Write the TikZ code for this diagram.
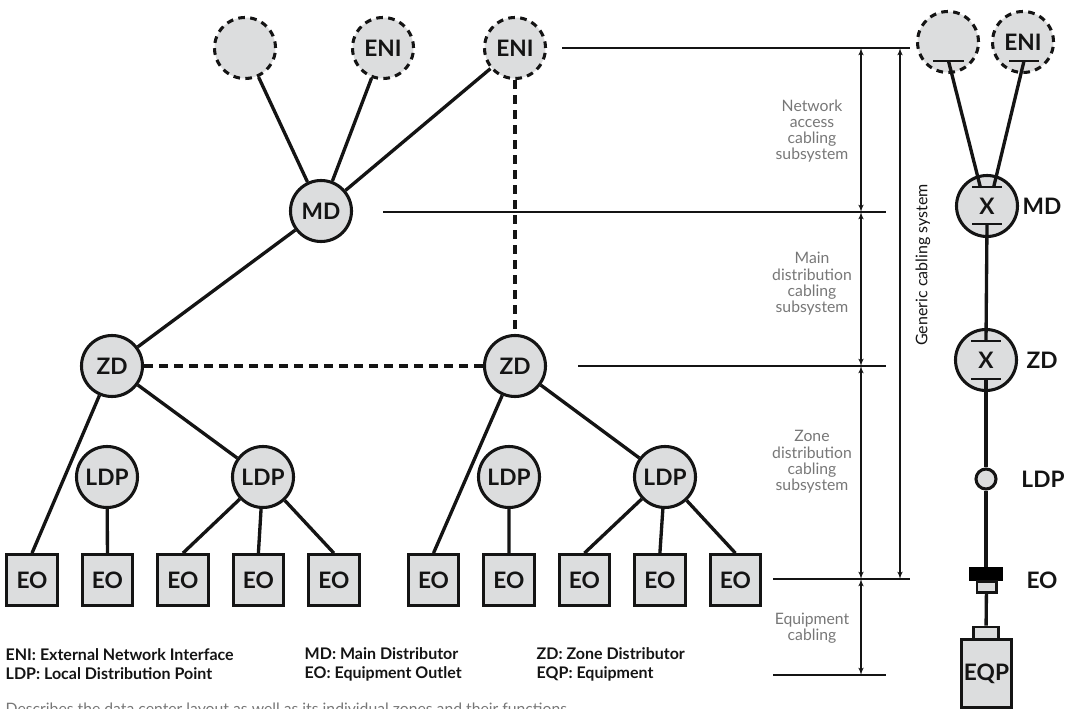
\documentclass[tikz,border=0pt]{standalone}
\usepackage{fontspec}
\setmainfont{Lato}
\usetikzlibrary{arrows}

\definecolor{boxgray}{HTML}{DCDDDE}
\definecolor{inkblack}{HTML}{141414}
\definecolor{notegray}{HTML}{777777}

\tikzset{
    disc/.style={circle, draw=inkblack, line width=2.3pt, fill=boxgray, minimum size=45.75pt, inner sep=0pt, text=inkblack, font=\fontsize{17}{19}\selectfont\bfseries},
    dashdisc/.style={disc, dash pattern=on 5pt off 4pt},
    outlet/.style={rectangle, draw=inkblack, line width=2.3pt, fill=boxgray, minimum size=38pt, inner sep=0pt, text=inkblack, font=\fontsize{17}{19}\selectfont\bfseries},
    bar/.style={rectangle, fill=inkblack, minimum width=23pt, minimum height=1.9pt, inner sep=0pt},
    cable/.style={draw=inkblack, line width=2.5pt},
    dashcable/.style={cable, line width=2.3pt, dash pattern=on 6.75pt off 4.5pt},
    rule/.style={draw=inkblack, line width=0.9pt},
    span/.style={rule, <->, >=latex'},
    note/.style={text=notegray, align=center, font=\fontsize{11.8}{12.2}\selectfont},
    tag/.style={text=inkblack, font=\fontsize{17}{19}\selectfont\bfseries},
    legend/.style={text=inkblack, anchor=west, align=left, font=\fontsize{12}{14.2}\selectfont\bfseries}
}

\begin{document}
\begin{tikzpicture}[x=0.75pt,y=-0.75pt,node distance=56.6pt]
    \useasboundingbox (0,0) rectangle (1075,709);

    % tree: top level
    \node[dashdisc] (ENIa) at (245,48)  {};
    \node[dashdisc] (ENIb) at (383,48)  {ENI};
    \node[dashdisc] (ENIc) at (515,48)  {ENI};
    \node[disc]     (MD)   at (321,211) {MD};
    \node[disc]     (ZDa)  at (112,366) {ZD};
    \node[disc]     (ZDb)  at (515,366) {ZD};

    % tree: lower level
    \node[disc] (LDPa) at (107,477) {LDP};
    \node[disc] (LDPb) at (263,477) {LDP};
    \node[disc] (LDPc) at (509,477) {LDP};
    \node[disc] (LDPd) at (665,477) {LDP};

    \node[outlet] (EOa) at (32,580)  {EO};
    \node[outlet] (EOb) [right of=EOa] {EO};
    \node[outlet] (EOc) [right of=EOb] {EO};
    \node[outlet] (EOd) [right of=EOc] {EO};
    \node[outlet] (EOe) [right of=EOd] {EO};
    \node[outlet] (EOf) at (433.5,580) {EO};
    \node[outlet] (EOg) [right of=EOf] {EO};
    \node[outlet] (EOh) [right of=EOg] {EO};
    \node[outlet] (EOi) [right of=EOh] {EO};
    \node[outlet] (EOj) [right of=EOi] {EO};

    % tree: cables
    \draw[cable] (ENIa) -- (MD);
    \draw[cable] (ENIb) -- (MD);
    \draw[cable] (ENIc) -- (MD);
    \draw[cable] (MD) -- (ZDa);
    \draw[dashcable] (ENIc) -- (ZDb);
    \draw[dashcable] (ZDa) -- (ZDb);

    \draw[cable] (ZDa) -- (EOa.north);
    \draw[cable] (ZDa) -- (LDPb);
    \draw[cable] (LDPa) -- (EOb.north);
    \draw[cable] (LDPb) -- (EOc.north);
    \draw[cable] (LDPb) -- (EOd.north);
    \draw[cable] (LDPb) -- (EOe.north);

    \draw[cable] (ZDb) -- (EOf.north);
    \draw[cable] (ZDb) -- (LDPd);
    \draw[cable] (LDPc) -- (EOg.north);
    \draw[cable] (LDPd) -- (EOh.north);
    \draw[cable] (LDPd) -- (EOi.north);
    \draw[cable] (LDPd) -- (EOj.north);

    % levels
    \coordinate (ruleAs) at (562,48);
    \coordinate (ruleAe) at (910,48);
    \coordinate (ruleBs) at (383,212);
    \coordinate (ruleBe) at (886,212);
    \coordinate (ruleCs) at (578,366);
    \coordinate (ruleCe) at (886,366);
    \coordinate (ruleDs) at (773,579);
    \coordinate (ruleDe) at (910,579);
    \coordinate (ruleEs) at (773,675);
    \coordinate (ruleEe) at (886,675);
    \coordinate (spanA) at (861,48);
    \coordinate (spanB) at (861,212);
    \coordinate (spanC) at (861,366);
    \coordinate (spanD) at (861,579);
    \coordinate (spanE) at (861,675);
    \coordinate (spanF) at (900,48);
    \coordinate (spanG) at (900,579);

    \draw[rule] (ruleAs) -- (ruleAe);
    \draw[rule] (ruleBs) -- (ruleBe);
    \draw[rule] (ruleCs) -- (ruleCe);
    \draw[rule] (ruleDs) -- (ruleDe);
    \draw[rule] (ruleEs) -- (ruleEe);

    \draw[span] (spanA) -- (spanB);
    \draw[span] (spanB) -- (spanC);
    \draw[span] (spanC) -- (spanD);
    \draw[span] (spanD) -- (spanE);
    \draw[span] (spanF) -- (spanG);

    \node[note] (noteA) at (812,131) {Network\\access\\cabling\\subsystem};
    \node[note] (noteB) at (812,284) {Main\\distribution\\cabling\\subsystem};
    \node[note] (noteC) at (812,462) {Zone\\distribution\\cabling\\subsystem};
    \node[note] (noteD) at (812,628) {Equipment\\cabling};
    \node[text=inkblack, rotate=90, font=\fontsize{12}{13}\selectfont] (noteE) at (923,265) {Generic cabling system};

    % right column
    \node[dashdisc] (sideA) at (948,42) {};
    \node[dashdisc] (sideB) at (1023,42) {ENI};
    \node[disc] (sideMD) at (987,206) {X};
    \node[disc] (sideZD) at (986,360) {X};
    \node[circle, draw=inkblack, line width=2.3pt, fill=boxgray, minimum size=15pt, inner sep=0pt] (sideLDP) at (986,479) {};
    \node[rectangle, fill=black, minimum width=25.5pt, minimum height=10.5pt, inner sep=0pt] (sideEO) at (986,574) {};
    \node[rectangle, draw=inkblack, line width=2pt, fill=boxgray, minimum width=14.5pt, minimum height=8.5pt, inner sep=0pt] (sidePlug) at (986.5,587) {};
    \node[rectangle, draw=inkblack, line width=2pt, fill=boxgray, minimum width=19pt, minimum height=9pt, inner sep=0pt] (sideTab) at (986,633) {};
    \node[rectangle, draw=inkblack, line width=2.3pt, fill=boxgray, minimum width=37.5pt, minimum height=51pt, inner sep=0pt, text=inkblack, font=\fontsize{17}{19}\selectfont\bfseries] (sideEQP) at (986.5,673.5) {EQP};

    \node[bar] (barA) at (948.5,61) {};
    \node[bar] (barB) at (1024,61) {};
    \node[bar] (barC) at (987,187) {};
    \node[bar] (barD) at (987,224) {};
    \node[bar] (barE) at (986,341) {};
    \node[bar] (barF) at (986,379) {};

    \draw[cable] (barA.center) -- ([xshift=-5pt]barC.center);
    \draw[cable] (barB.center) -- ([xshift=5pt]barC.center);
    \draw[cable] (barD.center) -- (barE.center);
    \draw[cable] (barF.center) -- (sideLDP);
    \draw[cable] (sideLDP) -- (sideEO);
    \draw[cable] (sidePlug) -- (sideTab);

    \node[tag] (tagMD)  at (1042,206) {MD};
    \node[tag] (tagZD)  at (1042,360) {ZD};
    \node[tag] (tagLDP) at (1043,479) {LDP};
    \node[tag] (tagEO)  at (1042,580) {EO};

    % legend
    \node[legend] (legA) at (1,664) {ENI: External Network Interface\\LDP: Local Distribution Point};
    \node[legend] (legB) at (300,664) {MD: Main Distributor\\EO: Equipment Outlet};
    \node[legend] (legC) at (532,664) {ZD: Zone Distributor\\EQP: Equipment};
    \node[note, anchor=west] (caption) at (1,710) {Describes the data center layout as well as its individual zones and their functions.};
\end{tikzpicture}
\end{document}
